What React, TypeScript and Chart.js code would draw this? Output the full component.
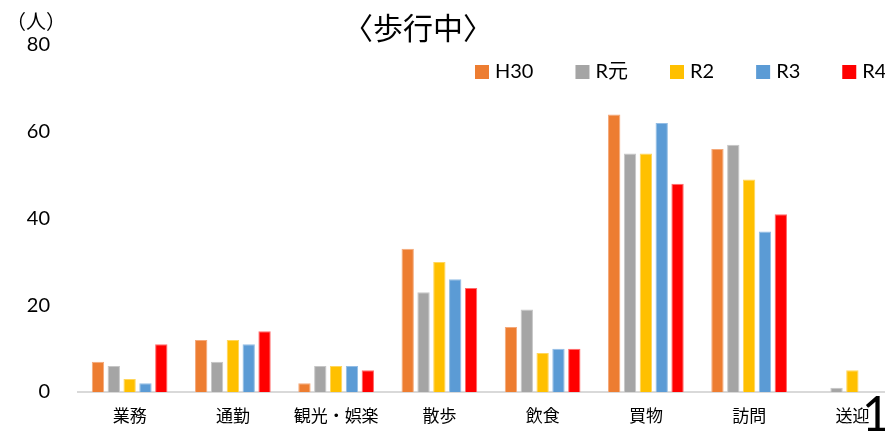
import React, { useEffect, useRef } from "react";
import { Chart, registerables } from "chart.js";

Chart.register(...registerables);

const titleText = "〈歩行中〉";
const unitText = "（人）";
const pageNumber = "1";
const categories = ["業務", "通勤", "観光・娯楽", "散歩", "飲食", "買物", "訪問", "送迎"];
const seriesNames = ["H30", "R元", "R2", "R3", "R4"];
const h30 = [7, 12, 2, 33, 15, 64, 56, 0];
const rGannen = [6, 7, 6, 23, 19, 55, 57, 1];
const r2 = [3, 12, 6, 30, 9, 55, 49, 5];
const r3 = [2, 11, 6, 26, 10, 62, 37, 0];
const r4 = [11, 14, 5, 24, 10, 48, 41, 0];
const yMin = 0;
const yMax = 80;
const yStep = 20;

const colors = ["#ED7D31", "#A5A5A5", "#FFC000", "#5B9BD5", "#FF0000"];
const edgeColors = ["#F4A97A", "#C6C6C6", "#FFD65C", "#93BDE5", "#FF6A6A"];

const CJK = "'Noto Sans CJK JP'";
const LATIN = "Lato, 'Noto Sans CJK JP'";

const overlay = {
  id: "overlay",
  afterDraw(chart: any) {
    const ctx = chart.ctx as CanvasRenderingContext2D;
    ctx.save();
    ctx.fillStyle = "#000";
    ctx.textBaseline = "middle";
    ctx.textAlign = "center";
    ctx.font = `30px ${CJK}`;
    ctx.fillText(titleText, 418, 28);
    ctx.font = `20px ${CJK}`;
    ctx.fillText(unitText, 36, 21);

    ctx.textAlign = "left";
    ctx.font = `20px ${LATIN}`;
    let x = 475;
    seriesNames.forEach((name, i) => {
      ctx.fillStyle = colors[i];
      ctx.fillRect(x, 65, 14, 14);
      ctx.fillStyle = "#000";
      ctx.fillText(name, x + 20, 72);
      x += 20 + ctx.measureText(name).width + 42;
    });

    ctx.font = `48px Lato`;
    ctx.textBaseline = "alphabetic";
    ctx.fillText(pageNumber, 862, 431);
    ctx.restore();
  },
};

export default function App() {
  const ref = useRef<HTMLCanvasElement | null>(null);

  useEffect(() => {
    if (!ref.current) return;
    const seriesData = [h30, rGannen, r2, r3, r4];
    const chart = new Chart(ref.current, {
      type: "bar",
      data: {
        labels: categories,
        datasets: seriesNames.map((name, i) => ({
          label: name,
          data: seriesData[i],
          backgroundColor: colors[i],
          borderColor: edgeColors[i],
          borderWidth: 1,
          categoryPercentage: 0.767,
          barPercentage: 0.78,
        })),
      },
      options: {
        responsive: false,
        animation: false,
        layout: { padding: { top: 45, left: 0, right: 0, bottom: 0 } },
        plugins: {
          legend: { display: false },
          title: { display: false },
          tooltip: { enabled: false },
        },
        scales: {
          x: {
            grid: { display: false, drawTicks: false },
            border: { display: true, color: "#D9D9D9", width: 2 },
            ticks: {
              color: "#000",
              padding: 13,
              maxRotation: 0,
              autoSkip: false,
              font: { family: CJK, size: 17 },
            },
            afterFit: (scale: any) => {
              scale.height = 40;
            },
          },
          y: {
            min: yMin,
            max: yMax,
            grid: { display: false, drawTicks: false },
            border: { display: false },
            ticks: {
              stepSize: yStep,
              color: "#000",
              padding: 28,
              font: { family: LATIN, size: 20 },
            },
            afterFit: (scale: any) => {
              scale.width = 78;
            },
          },
        },
      },
      plugins: [overlay],
    });
    return () => chart.destroy();
  }, []);

  return (
    <div
      style={{
        position: "fixed",
        left: 0,
        top: 0,
        width: 885,
        height: 432,
        overflow: "hidden",
        background: "#fff",
      }}
    >
      <canvas ref={ref} width={904} height={432} style={{ width: 904, height: 432, display: "block" }} />
    </div>
  );
}
